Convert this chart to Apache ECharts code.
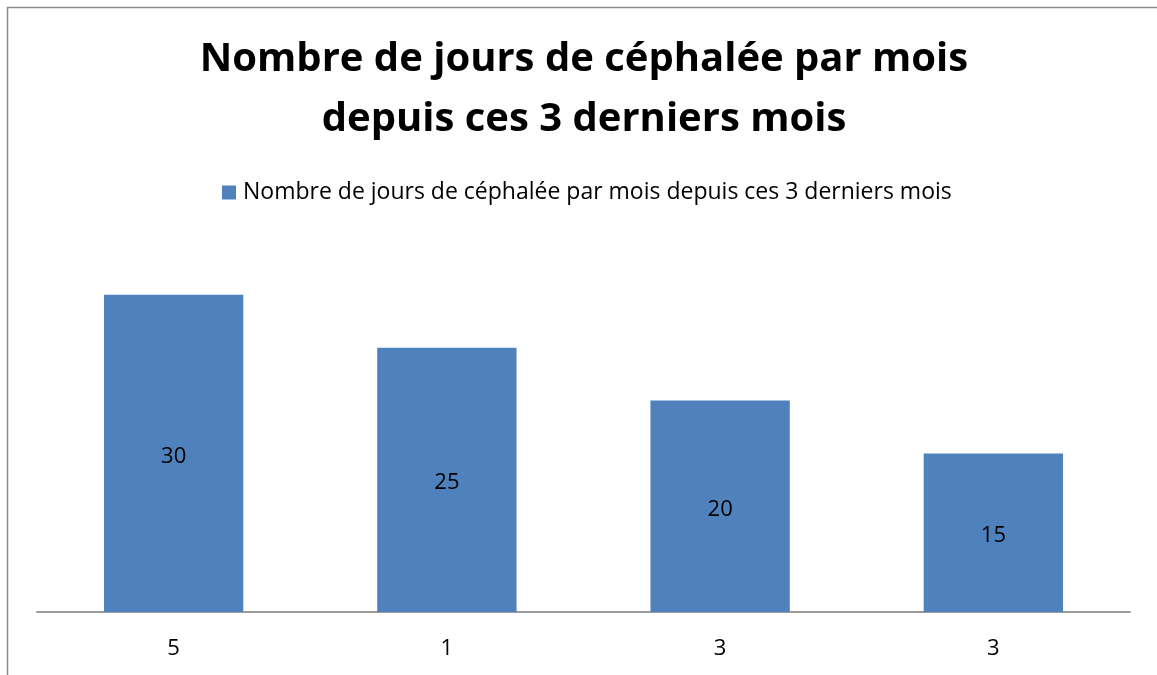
<!DOCTYPE html>
<html><head><meta charset="utf-8">
<script src="https://cdn.jsdelivr.net/npm/echarts@6/dist/echarts.min.js"></script>
<style>html,body{margin:0;padding:0;background:#fff}#c{width:1157px;height:675px}</style>
</head><body><div id="c"></div>
<script>
const categories = ['5', '1', '3', '3'];
const seriesName = 'Nombre de jours de céphalée par mois depuis ces 3 derniers mois';
const values = [30, 25, 20, 15];
const titleText = 'Nombre de jours de céphalée par mois\ndepuis ces 3 derniers mois';

const chart = echarts.init(document.getElementById('c'));
chart.setOption({
  animation: false,
  backgroundColor: '#fff',
  graphic: [{type: 'rect', shape: {x: 7.5, y: 7.5, width: 1200, height: 720}, style: {fill: 'none', stroke: '#8c8c8c', lineWidth: 1.5}, silent: true}],
  title: {text: titleText, left: 579, textAlign: 'center', top: 25, textStyle: {fontFamily: 'Open Sans', fontWeight: 'bold', fontSize: 40, lineHeight: 60, color: '#000'}},
  legend: {data: [seriesName], top: 176, left: 217, itemWidth: 14, itemHeight: 14, itemGap: 8, icon: 'rect',
    textStyle: {fontFamily: 'Open Sans', fontSize: 23, color: '#000', padding: [0,0,0,2]}},
  grid: {left: 37, right: 27, top: 242, bottom: 63},
  xAxis: {type: 'category', data: categories, axisLine: {lineStyle: {color: '#9a9a9a', width: 2}}, axisTick: {show: false},
    axisLabel: {fontFamily: 'Open Sans', fontSize: 22, color: '#000', margin: 26}},
  yAxis: {type: 'value', min: 0, max: 35, show: false, splitLine: {show: false}},
  series: [{name: seriesName, type: 'bar', data: values, barWidth: '51%', itemStyle: {color: '#4f81bd'},
    label: {show: true, position: 'inside', fontFamily: 'Open Sans', fontSize: 22, color: '#000', offset: [0, 3]}}]
});
</script></body></html>
